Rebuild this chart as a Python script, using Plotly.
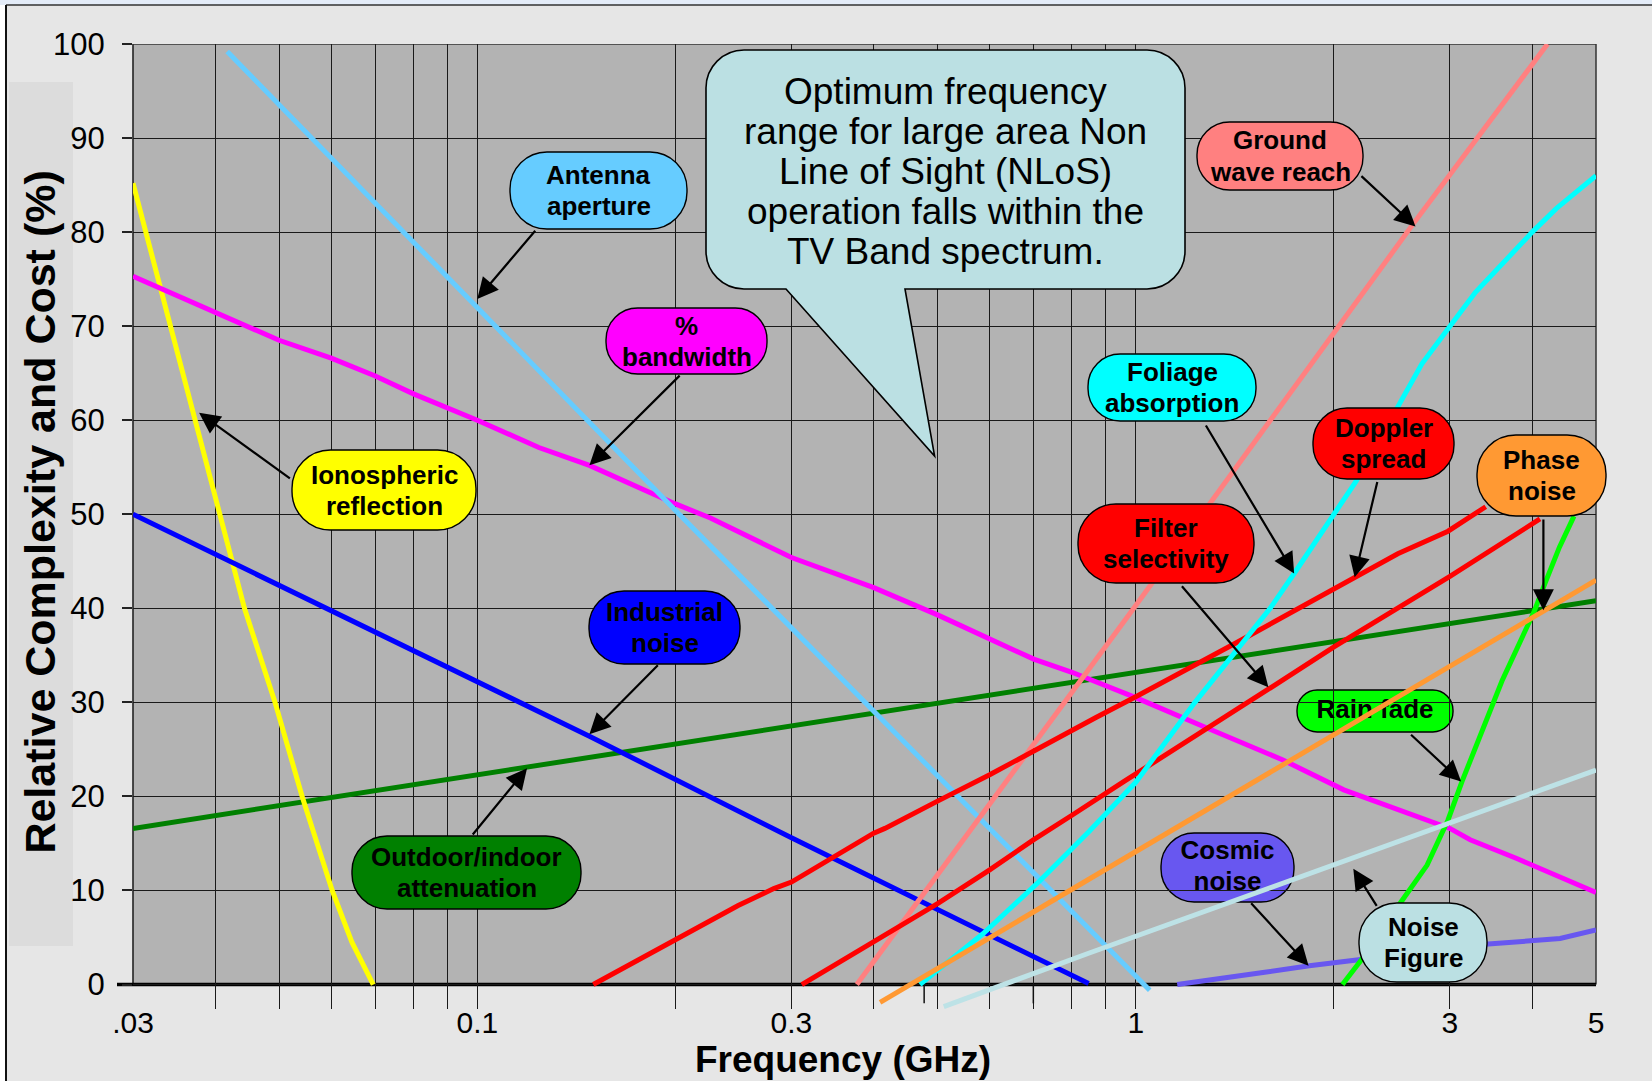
import math
import plotly.graph_objects as go

# ---------------- axis ticks ----------------
x_tick_values = [0.03, 0.1, 0.3, 1, 3, 5]
x_tick_labels = [".03", "0.1", "0.3", "1", "3", "5"]
x_grid_values = [0.03, 0.04, 0.05, 0.06, 0.07, 0.08, 0.09, 0.1, 0.2, 0.3, 0.4, 0.5,
                 0.6, 0.7, 0.8, 0.9, 1, 2, 3, 4, 5]
y_tick_values = [0, 10, 20, 30, 40, 50, 60, 70, 80, 90, 100]

# ---------------- series: frequency (GHz) / relative complexity (%) ----------------
outdoor_f = [0.03, 0.3, 5]
outdoor_v = [16.6, 27.5, 40.8]

iono_f = [0.03, 0.0342, 0.0373, 0.0407, 0.0443, 0.0493, 0.0542, 0.0602, 0.0645, 0.0695]
iono_v = [85.2, 70, 60, 50, 40, 30, 20, 10, 4.5, 0]

bandwidth_f = [0.03, 0.05, 0.06, 0.07, 0.08, 0.1, 0.124, 0.148, 0.2, 0.226, 0.3, 0.348, 0.4,
               0.5, 0.544, 0.6, 0.7, 0.8, 1.0, 1.28, 1.67, 2.07, 3.0, 3.22, 3.79, 5.0]
bandwidth_v = [75.3, 68.5, 66.6, 64.7, 62.8, 60.0, 57.1, 55.2, 51.1, 49.6, 45.4, 43.8, 42.2,
               39.3, 38.1, 36.7, 34.6, 33.2, 30.5, 27.3, 23.9, 20.7, 16.6, 15.4, 13.4, 9.8]

industrial_f = [0.03, 0.1, 0.148, 0.3, 0.5, 0.848]
industrial_v = [50.0, 32.1, 26.4, 15.6, 8.0, 0.1]

antenna_f = [0.0417, 0.2, 0.537, 1.05]
antenna_v = [99.2, 50.4, 20.0, -0.6]

ground_f = [0.377, 1.0, 2.64, 4.22]
ground_v = [0, 40.3, 80.9, 100]

doppler_f = [0.150, 0.196, 0.249, 0.282, 0.3, 0.4, 0.416, 0.5, 0.6, 0.87, 1.0, 1.41, 2.15,
             2.5, 2.98, 3.22, 3.40]
doppler_v = [0, 4.5, 8.4, 10.2, 10.9, 16.1, 16.6, 19.5, 22.3, 28.4, 30.6, 36.2, 43.3,
             45.8, 48.2, 49.8, 50.8]

filter_f = [0.311, 0.4, 0.5, 0.6, 0.7, 0.8, 0.96, 1.59, 2.0, 3.0, 4.11]
filter_v = [0, 4.5, 8.6, 12.2, 15.4, 18.0, 21.6, 31.4, 35.9, 43.4, 49.5]

foliage_f = [0.47, 0.586, 0.707, 0.85, 1.0, 1.23, 1.6, 1.74, 2.16, 2.51, 2.72, 3.0, 3.28,
             4.0, 4.35, 5.0]
foliage_v = [0, 5.4, 10.7, 16.3, 21.5, 30, 40, 43.7, 53.5, 61.5, 66.0, 70.0, 73.6,
             80, 82.5, 86]

cosmic_f = [1.156, 1.348, 1.57, 1.835, 2.2, 3.43, 4.41, 5.0]
cosmic_v = [0, 0.6, 1.3, 2.0, 2.7, 4.3, 4.9, 5.8]

rain_f = [2.06, 2.2, 2.53, 2.77, 2.98, 3.13, 3.6, 4.03, 4.18, 4.4, 4.63]
rain_v = [0, 2.6, 8.8, 12.7, 17.5, 21.6, 32.3, 39.7, 42.6, 46.5, 49.8]

phase_f = [0.409, 0.846, 5.0]
phase_v = [-1.9, 11.1, 43.0]

noisefig_f = [0.511, 0.846, 5.0]
noisefig_v = [-2.35, 3.3, 22.8]

series = [
    ("Outdoor/indoor attenuation", outdoor_f, outdoor_v, "#008000"),
    ("Ionospheric reflection", iono_f, iono_v, "#FFFF00"),
    ("% bandwidth", bandwidth_f, bandwidth_v, "#FF00FF"),
    ("Industrial noise", industrial_f, industrial_v, "#0000FF"),
    ("Antenna aperture", antenna_f, antenna_v, "#66CCFF"),
    ("Ground wave reach", ground_f, ground_v, "#FF8080"),
    ("Doppler spread", doppler_f, doppler_v, "#FF0000"),
    ("Filter selectivity", filter_f, filter_v, "#FF0000"),
    ("Foliage absorption", foliage_f, foliage_v, "#00FFFF"),
    ("Cosmic noise", cosmic_f, cosmic_v, "#6857F0"),
    ("Rain fade", rain_f, rain_v, "#00FF00"),
    ("Phase noise", phase_f, phase_v, "#FF9933"),
    ("Noise Figure", noisefig_f, noisefig_v, "#BDE2E6"),
]

# ---------------- page geometry (pixels) ----------------
W, H = 1652, 1081
L, R, T, B = 133, 1596, 44, 1009
Y_MIN, Y_MAX = -2.6, 100
X_MIN, X_MAX = 0.03, 5
FONT = "Liberation Sans, Arial, sans-serif"


def px2x(px):
    return (px - L) / (R - L)


def py2y(py):
    return (B - py) / (B - T)


def px2f(px):
    lo, hi = math.log10(X_MIN), math.log10(X_MAX)
    return 10 ** (lo + (px - L) / (R - L) * (hi - lo))


def py2v(py):
    return Y_MIN + (B - py) / (B - T) * (Y_MAX - Y_MIN)


def P(x, y):
    return f"{px2x(x):.5f},{py2y(y):.5f}"


def rounded_path(x0, y0, x1, y1, r, tail=None):
    k = 0.5523 * r
    s = f"M{P(x0 + r, y0)} L{P(x1 - r, y0)} "
    s += f"C{P(x1 - r + k, y0)} {P(x1, y0 + r - k)} {P(x1, y0 + r)} "
    s += f"L{P(x1, y1 - r)} C{P(x1, y1 - r + k)} {P(x1 - r + k, y1)} {P(x1 - r, y1)} "
    if tail:
        tl, tr, tx, ty = tail
        s += f"L{P(tr, y1)} L{P(tx, ty)} L{P(tl, y1)} "
    s += f"L{P(x0 + r, y1)} C{P(x0 + r - k, y1)} {P(x0, y1 - r + k)} {P(x0, y1 - r)} "
    s += f"L{P(x0, y0 + r)} C{P(x0, y0 + r - k)} {P(x0 + r - k, y0)} {P(x0 + r, y0)} Z"
    return s


# label bubbles: text lines, box (px), fill, arrow head / tail (data)
labels = [
    dict(lines=["Antenna", "aperture"], box=(510, 152, 687, 229), fill="#66CCFF",
         head=(0.1, 72.9), tail=(0.123, 80.3)),
    dict(lines=["%", "bandwidth"], box=(606, 308, 767, 374), fill="#FF00FF",
         head=(0.148, 55.2), tail=(0.204, 64.9)),
    dict(lines=["Ionospheric", "reflection"], box=(292, 450, 476, 530), fill="#FFFF00",
         head=(0.0378, 60.8), tail=(0.0522, 53.7)),
    dict(lines=["Industrial", "noise"], box=(589, 591, 740, 664), fill="#0000FF",
         head=(0.148, 26.6), tail=(0.189, 34.1)),
    dict(lines=["Outdoor/indoor", "attenuation"], box=(352, 836, 581, 909), fill="#008000",
         head=(0.119, 23.0), tail=(0.098, 15.8)),
    dict(lines=["Ground", "wave reach"], box=(1197, 122, 1363, 190), fill="#FF8080",
         head=(2.66, 80.6), tail=(2.19, 86.1)),
    dict(lines=["Foliage", "absorption"], box=(1088, 354, 1256, 421), fill="#00FFFF",
         head=(1.74, 43.7), tail=(1.274, 59.6)),
    dict(lines=["Doppler", "spread"], box=(1313, 408, 1454, 479), fill="#FF0000",
         head=(2.15, 43.3), tail=(2.33, 53.6)),
    dict(lines=["Phase", "noise"], box=(1477, 435, 1606, 516), fill="#FF9933",
         head=(4.16, 39.8), tail=(4.16, 49.6)),
    dict(lines=["Filter", "selectivity"], box=(1078, 504, 1254, 583), fill="#FF0000",
         head=(1.59, 31.6), tail=(1.17, 42.5)),
    dict(lines=["Rain fade"], box=(1297, 690, 1453, 732), fill="#00FF00",
         head=(3.12, 21.6), tail=(2.605, 26.7), under=True),
    dict(lines=["Cosmic", "noise"], box=(1161, 833, 1294, 902), fill="#6857F0",
         head=(1.83, 2.0), tail=(1.49, 8.8), under=True),
    dict(lines=["Noise", "Figure"], box=(1359, 903, 1487, 982), fill="#BBE0E3",
         head=(2.14, 12.3), tail=(2.33, 8.2)),
]

callout_lines = ["Optimum frequency", "range for large area Non", "Line of Sight (NLoS)",
                 "operation falls within the", "TV Band spectrum."]

fig = go.Figure()

shapes = []
annotations = []

# text of labels that sit underneath the curves -> scatter text traces first
for lab in labels:
    x0, y0, x1, y1 = lab["box"]
    cx, cy = (x0 + x1) / 2, (y0 + y1) / 2
    n = len(lab["lines"])
    offs = [0] if n == 1 else [-15.5, 15.5]
    if lab.get("under"):
        fig.add_trace(go.Scatter(
            x=[px2f(cx)] * n, y=[py2v(cy + o) for o in offs],
            mode="text", text=[f"<b>{t}</b>" for t in lab["lines"]],
            textfont=dict(family=FONT, size=26, color="black"),
            textposition="middle center", hoverinfo="skip", showlegend=False))
    else:
        for t, o in zip(lab["lines"], offs):
            annotations.append(dict(
                xref="paper", yref="paper", x=px2x(cx), y=py2y(cy + o),
                text=f"<b>{t}</b>", showarrow=False, xanchor="center", yanchor="middle",
                font=dict(family=FONT, size=26, color="black")))

for name, fx, vy, col in series:
    fig.add_trace(go.Scatter(x=fx, y=vy, mode="lines", name=name,
                             line=dict(color=col, width=5), hoverinfo="skip",
                             showlegend=False))

# window chrome / background pieces
shapes.append(dict(type="rect", xref="paper", yref="paper", layer="below",
                   x0=px2x(0), x1=px2x(W), y0=py2y(0), y1=py2y(5),
                   fillcolor="#E4ECF8", line=dict(width=0)))
shapes.append(dict(type="rect", xref="paper", yref="paper", layer="below",
                   x0=px2x(0), x1=px2x(6), y0=py2y(5), y1=py2y(H),
                   fillcolor="#FFFFFF", line=dict(width=0)))
shapes.append(dict(type="line", xref="paper", yref="paper", layer="below",
                   x0=px2x(6), x1=px2x(W), y0=py2y(5), y1=py2y(5),
                   line=dict(color="#333333", width=1.5)))
shapes.append(dict(type="line", xref="paper", yref="paper", layer="below",
                   x0=px2x(6), x1=px2x(6), y0=py2y(5), y1=py2y(H),
                   line=dict(color="#111111", width=2)))
shapes.append(dict(type="rect", xref="paper", yref="paper", layer="below",
                   x0=px2x(9), x1=px2x(73), y0=py2y(82), y1=py2y(946),
                   fillcolor="#DCDCDC", line=dict(width=0)))

# cover the strip below zero, ticks, borders, zero line
shapes.append(dict(type="rect", xref="paper", yref="y", layer="between",
                   x0=0, x1=1, y0=Y_MIN, y1=0, fillcolor="#E6E6E6", line=dict(width=0)))
for t in x_tick_values:
    shapes.append(dict(type="line", xref="x", yref="y", layer="between",
                       x0=math.log10(t), x1=math.log10(t), y0=0, y1=-2.0,
                       line=dict(color="#111111", width=1.5)))
shapes.append(dict(type="line", xref="paper", yref="y", layer="between",
                   x0=0, x1=0, y0=0, y1=100, line=dict(color="#222222", width=1.6)))
shapes.append(dict(type="line", xref="paper", yref="y", layer="between",
                   x0=1, x1=1, y0=0, y1=100, line=dict(color="#333333", width=1.5)))
shapes.append(dict(type="line", xref="paper", yref="y", layer="between",
                   x0=0, x1=1, y0=100, y1=100, line=dict(color="#333333", width=1.6)))
shapes.append(dict(type="line", xref="paper", yref="y", layer="between",
                   x0=px2x(117), x1=1, y0=0, y1=0, line=dict(color="#000000", width=3.5)))

# label bubbles
for lab in labels:
    x0, y0, x1, y1 = lab["box"]
    r = min(y1 - y0, x1 - x0) / 2 * 0.96
    shapes.append(dict(type="path", xref="paper", yref="paper",
                       layer="between" if lab.get("under") else "above",
                       path=rounded_path(x0, y0, x1, y1, r), fillcolor=lab["fill"],
                       line=dict(color="#000000", width=1.4)))
    hf, hv = lab["head"]
    tf, tv = lab["tail"]
    annotations.append(dict(
        xref="x", yref="y", axref="x", ayref="y",
        x=math.log10(hf), y=hv, ax=math.log10(tf), ay=tv, text="",
        showarrow=True, arrowhead=2, arrowsize=1.9, arrowwidth=2.2,
        arrowcolor="#000000", standoff=0, startstandoff=0))

# big call-out balloon
shapes.append(dict(type="path", xref="paper", yref="paper", layer="above",
                   path=rounded_path(706, 50, 1185, 289, 38, tail=(786, 905, 934.6, 456)),
                   fillcolor="#BBE0E3", line=dict(color="#000000", width=1.6)))
for i, t in enumerate(callout_lines):
    annotations.append(dict(
        xref="paper", yref="paper", x=px2x(945.5), y=py2y(91.7 + 40.0 * i),
        text=t, showarrow=False, xanchor="center", yanchor="middle",
        font=dict(family=FONT, size=37, color="black")))

# axis titles
annotations.append(dict(xref="paper", yref="paper", x=px2x(40), y=py2y(512.6),
                        text="<b>Relative Complexity and Cost (%)</b>", textangle=-90,
                        showarrow=False, xanchor="center", yanchor="middle",
                        font=dict(family=FONT, size=43, color="black")))
annotations.append(dict(xref="paper", yref="paper", x=px2x(843), y=py2y(1059),
                        text="<b>Frequency (GHz)</b>", showarrow=False,
                        xanchor="center", yanchor="middle",
                        font=dict(family=FONT, size=37, color="black")))

fig.update_layout(
    width=W, height=H,
    margin=dict(l=L, r=W - R, t=T, b=H - B, pad=0),
    paper_bgcolor="#E6E6E6", plot_bgcolor="#B3B3B3",
    font=dict(family=FONT, color="black"),
    shapes=shapes, annotations=annotations, showlegend=False,
    xaxis=dict(type="log", range=[math.log10(X_MIN), math.log10(X_MAX)],
               tickmode="array", tickvals=x_tick_values, ticktext=x_tick_labels,
               ticks="", showgrid=True, gridcolor="#1A1A1A", gridwidth=1.2,
               minor=dict(tickvals=x_grid_values, showgrid=True, gridcolor="#1A1A1A",
                          gridwidth=1.2, ticks=""),
               zeroline=False, showline=False,
               tickfont=dict(family=FONT, size=30, color="black"),
               ticklabelstandoff=-7, fixedrange=True),
    yaxis=dict(range=[Y_MIN, Y_MAX], tickmode="array", tickvals=y_tick_values,
               ticks="outside", ticklen=10, tickwidth=1.5, tickcolor="#222222",
               showgrid=True, gridcolor="#1A1A1A", gridwidth=1.2,
               zeroline=False, showline=False,
               tickfont=dict(family=FONT, size=31, color="black"),
               ticklabelstandoff=11, fixedrange=True),
)

fig.write_html("out.html", config={"displayModeBar": False},
               post_script="document.body.style.margin='0';document.body.style.overflow='hidden';")
